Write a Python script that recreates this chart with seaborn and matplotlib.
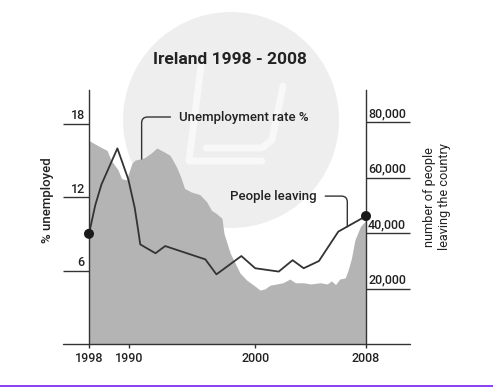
import matplotlib
matplotlib.use("Agg")
import matplotlib.pyplot as plt
import seaborn as sns
from matplotlib.patches import Ellipse, Rectangle
from matplotlib.lines import Line2D

# ---------------- data ----------------
title = "Ireland 1998 - 2008"
unemp_years = [1988.0, 1988.8, 1989.3, 1989.6, 1990.1, 1990.35, 1990.7, 1991.1, 1991.3,
               1992.0, 1992.5, 1992.9, 1993.4, 1993.85, 1994.1, 1994.3, 1994.6, 1994.9,
               1995.4, 1996.0, 1996.5, 1996.85, 1997.2, 1997.6, 1997.75, 1998.2, 1998.9,
               1999.4, 1999.9, 2000.35, 2000.7, 2001.07, 2001.55, 2002.0, 2002.5, 2002.9,
               2003.5, 2004.0, 2004.7, 2005.2, 2005.5, 2005.8, 2006.1, 2006.5, 2006.7,
               2006.95, 2007.2, 2007.6, 2008.0]
unemp_rate = [16.6, 16.1, 15.8, 15.0, 14.2, 13.5, 13.4, 14.75, 15.0,
              15.2, 15.6, 16.0, 15.7, 15.4, 14.9, 14.5, 13.7, 12.7,
              12.4, 12.2, 11.6, 10.9, 10.65, 10.25, 9.0, 7.4, 5.8,
              5.2, 4.8, 4.4, 4.5, 4.8, 4.9, 5.0, 5.3, 5.0,
              5.0, 4.9, 5.0, 4.9, 5.15, 4.85, 5.3, 5.4, 6.0,
              7.0, 8.5, 9.6, 10.1]

leave_years = [1988.0, 1988.45, 1988.9, 1990.05, 1990.84, 1991.3, 1991.56, 1991.7, 1992.8,
               1993.5, 1996.4, 1997.2, 1999.0, 2000.0, 2001.7, 2002.7, 2003.5, 2004.6,
               2006.0, 2008.0]
leaving = [39700, 50000, 57500, 70500, 59300, 49100, 40700, 35900, 32700,
           35300, 30500, 25100, 31700, 27300, 26100, 30200, 27300, 29900,
           40500, 46100]

x_tick_pos = [1988, 1990.9, 2000, 2008]
x_tick_labels = ["1998", "1990", "2000", "2008"]
left_ticks = [6, 12, 18]
left_tick_labels = ["6", "12", "18"]
right_ticks = [20000, 40000, 60000, 80000]
right_tick_labels = ["20,000", "40,000", "60,000", "80,000"]
left_label = "% unemployed"
right_label = "number of people\nleaving the country"
unemp_note = "Unemployment rate %"
leave_note = "People leaving"

# ---------------- style ----------------
sns.set_style("white")
plt.rcParams["font.family"] = ["Roboto", "DejaVu Sans"]
TXT = "#222222"
LINE = "#333333"
AREA = "#b4b4b4"

W, H = 493, 387
fig = plt.figure(figsize=(W / 100, H / 100), dpi=100)
fig.patch.set_facecolor("white")

def fx(px):
    return px / W

def fy(py):
    return 1 - py / H

# watermark
fig.add_artist(Ellipse((fx(231), fy(120)), 216 / W, 216 / H, transform=fig.transFigure,
                       facecolor="#eeeeee", edgecolor="none", zorder=-3))
for pts in ([(201, 66), (189, 161), (262, 161)],
            [(283, 86), (272, 140), (262, 148), (206, 148)]):
    fig.add_artist(Line2D([fx(p[0]) for p in pts], [fy(p[1]) for p in pts],
                          transform=fig.transFigure, color="#f8f8f8", lw=5,
                          solid_capstyle="round", solid_joinstyle="round", zorder=-2))

# axes
ax = fig.add_axes([fx(89), fy(344), (366 - 89) / W, (344 - 90) / H])
ax.set_facecolor("none")
ax2 = ax.twinx()
ax2.set_facecolor("none")

ax.fill_between(unemp_years, unemp_rate, 0, color=AREA, lw=0, zorder=1)
ax.set_xlim(1988, 2008)
ax.set_ylim(0, 254 / 12.25)
ax2.set_ylim(0, 254 / 0.002775)

sns.lineplot(x=leave_years, y=leaving, ax=ax2, color=LINE, lw=1.3, zorder=3)
sns.scatterplot(x=[leave_years[0], leave_years[-1]], y=[leaving[0], leaving[-1]], ax=ax2,
                color="#1a1a1a", s=52, edgecolor="none", zorder=4)
ax2.collections[-1].set_clip_on(False)
ax2.set_ylabel("")

for a in (ax, ax2):
    for s in ("top", "bottom"):
        a.spines[s].set_visible(False)
ax.spines["right"].set_visible(False)
ax2.spines["left"].set_visible(False)
ax.spines["left"].set_color(LINE)
ax.spines["left"].set_linewidth(1.0)
ax2.spines["right"].set_color(LINE)
ax2.spines["right"].set_linewidth(1.0)

# baseline extending beyond the axes
ax.axhline(0, xmin=(63 - 89) / 277, xmax=(410 - 89) / 277, color=LINE, lw=1.0,
           clip_on=False, zorder=5)

# x ticks
ax.set_xticks(x_tick_pos, labels=x_tick_labels)
ax.tick_params(axis="x", bottom=True, length=3, width=1.0, color=LINE, pad=3,
               labelsize=9, labelcolor=TXT)
for lab in ax.get_xticklabels():
    lab.set_fontweight("medium")

# left ticks
ax.set_yticks(left_ticks, labels=[""] * len(left_ticks))
ax.tick_params(axis="y", left=True, length=26 * 0.72, width=1.0, color=LINE)
for v, t in zip(left_ticks, left_tick_labels):
    ax.annotate(t, xy=(0, v), xycoords=ax.get_yaxis_transform(), xytext=(-3, 3),
                textcoords="offset points", ha="right", va="baseline", fontsize=9,
                color=TXT, fontweight="medium", annotation_clip=False)

# right ticks
ax2.set_yticks(right_ticks, labels=[""] * len(right_ticks))
ax2.tick_params(axis="y", right=True, length=44 * 0.72, width=1.0, color=LINE)
for v, t in zip(right_ticks, right_tick_labels):
    ax2.annotate(t, xy=(1, v), xycoords=ax2.get_yaxis_transform(), xytext=(1.5, 3.5),
                 textcoords="offset points", ha="left", va="baseline", fontsize=9,
                 color=TXT, fontweight="medium", annotation_clip=False)

# annotations with leader lines
ax.annotate(unemp_note, xy=(1991.8, 15.1), xytext=(1999.2, 18.53), ha="center", va="center",
            fontsize=9.5, color=TXT, fontweight="medium",
            arrowprops=dict(arrowstyle="-", color=LINE, lw=1.0, shrinkA=4, shrinkB=0,
                            connectionstyle="angle,angleA=0,angleB=90,rad=6"))
ax2.annotate(leave_note, xy=(2006.65, 42300), xytext=(2001.29, 53300), ha="center", va="center",
             fontsize=9.5, color=TXT, fontweight="medium",
             arrowprops=dict(arrowstyle="-", color=LINE, lw=1.0, shrinkA=4, shrinkB=0,
                             connectionstyle="angle,angleA=0,angleB=90,rad=6"))

# axis titles and chart title
fig.text(fx(47), fy(200), left_label, rotation=90, ha="center", va="center",
         fontsize=9.5, color=TXT, fontweight="medium")
fig.text(fx(437), fy(197), right_label, rotation=90, ha="center", va="center",
         multialignment="center", fontsize=9.2, color=TXT, linespacing=1.15)
fig.text(fx(230), fy(60), title, ha="center", va="center", fontsize=12.5,
         fontweight="bold", color=TXT)

# purple bottom rule
fig.add_artist(Rectangle((0, 0), 1, 2.5 / H, transform=fig.transFigure,
                         facecolor="#8a44f0", edgecolor="none", zorder=10))

fig.savefig("out.png", dpi=100)
